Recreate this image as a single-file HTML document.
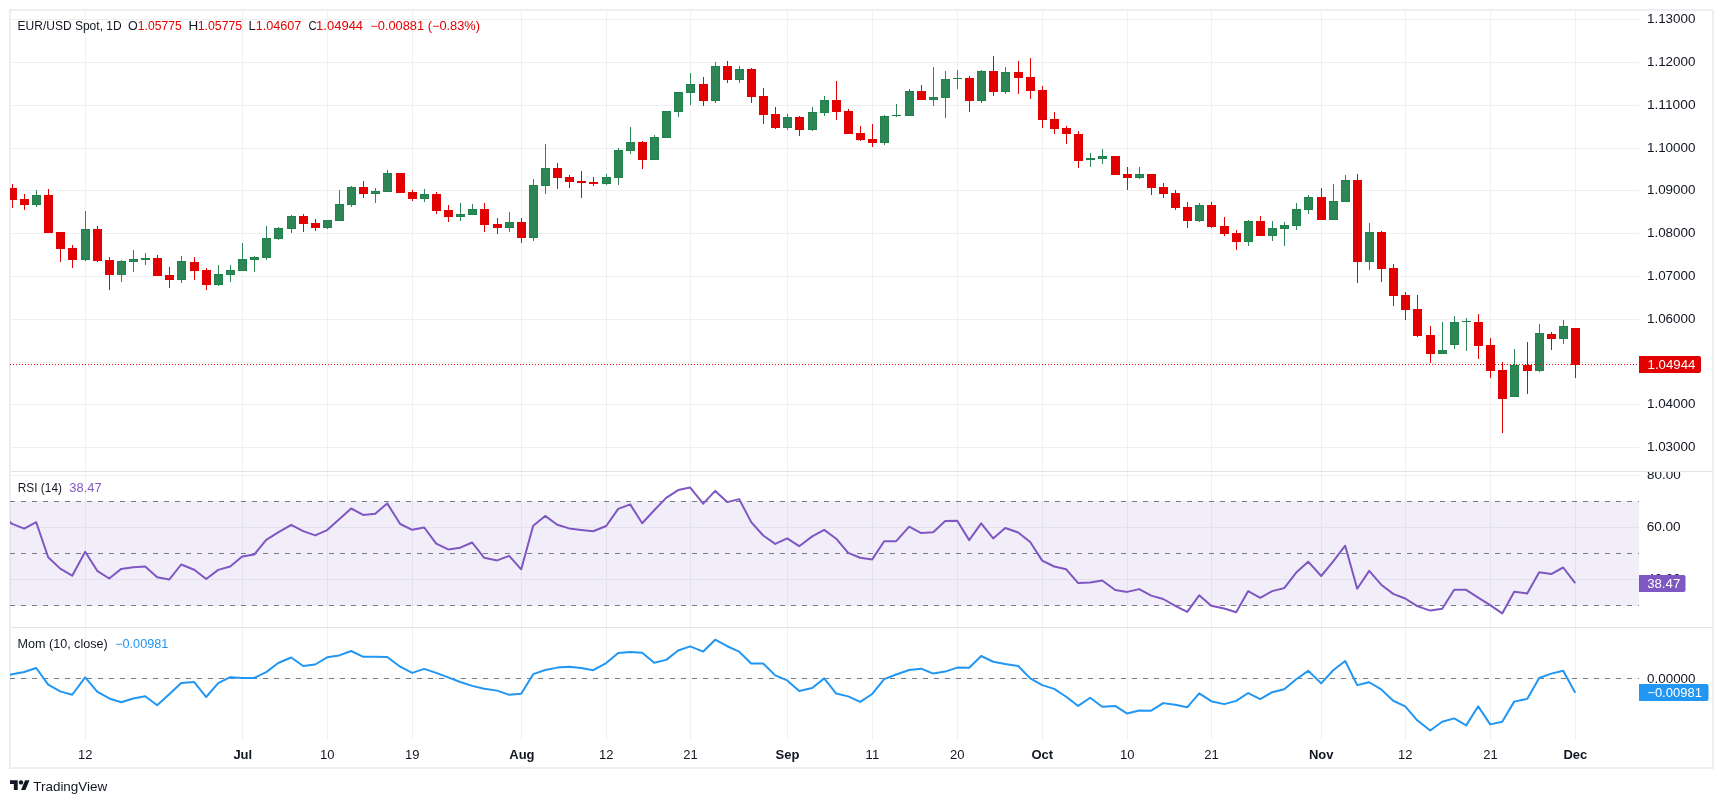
<!DOCTYPE html>
<html><head><meta charset="utf-8"><title>EUR/USD Spot 1D</title>
<style>html,body{margin:0;padding:0;background:#fff;}body{width:1723px;height:803px;position:relative;overflow:hidden;}</style>
</head><body>
<svg width="1723" height="803" viewBox="0 0 1723 803" style="position:absolute;left:0;top:0;will-change:transform">
<defs>
<clipPath id="cm"><rect x="10" y="11" width="1629" height="460"/></clipPath>
<clipPath id="cr"><rect x="10" y="472" width="1629" height="155"/></clipPath>
<clipPath id="cmo"><rect x="10" y="628" width="1629" height="112"/></clipPath>
<clipPath id="cra"><rect x="1639" y="472" width="73" height="155"/></clipPath>
</defs>
<rect x="10" y="10" width="1703" height="758" fill="none" stroke="#eceef2" stroke-width="2"/>
<path d="M85.5 11V740M242.5 11V740M327.5 11V740M412.5 11V740M521.5 11V740M606.5 11V740M690.5 11V740M787.5 11V740M872.5 11V740M957.5 11V740M1042.5 11V740M1127.5 11V740M1211.5 11V740M1321.5 11V740M1405.5 11V740M1490.5 11V740M1575.5 11V740M11 447.5H1639M11 404.5H1639M11 362.5H1639M11 319.5H1639M11 276.5H1639M11 233.5H1639M11 190.5H1639M11 148.5H1639M11 105.5H1639M11 62.5H1639M11 19.5H1639M11 475.5H1639M11 527.5H1639M11 579.5H1639M11 678.5H1639" stroke="#eff1f1" stroke-width="1" fill="none"/>
<rect x="10" y="501" width="1629" height="105" fill="#7e57c2" fill-opacity="0.1"/>
<path d="M10 501.5H1639" stroke="#787b86" stroke-width="1" stroke-dasharray="5 6"/>
<path d="M10 553.5H1639" stroke="#787b86" stroke-width="1" stroke-dasharray="5 6"/>
<path d="M10 605.5H1639" stroke="#787b86" stroke-width="1" stroke-dasharray="5 6"/>
<path d="M10 678.5H1639" stroke="#787b86" stroke-width="1" stroke-dasharray="5 6"/>
<g clip-path="url(#cm)" shape-rendering="crispEdges">
<rect x="12" y="184" width="1" height="4" fill="#e30000"/>
<rect x="12" y="200" width="1" height="8" fill="#e30000"/>
<rect x="8" y="188" width="9" height="12" fill="#e30000"/>
<rect x="24" y="194" width="1" height="5" fill="#e30000"/>
<rect x="24" y="205" width="1" height="5" fill="#e30000"/>
<rect x="20" y="199" width="9" height="6" fill="#e30000"/>
<rect x="36" y="190" width="1" height="5" fill="#2e8555"/>
<rect x="36" y="205" width="1" height="2" fill="#2e8555"/>
<rect x="32" y="195" width="9" height="10" fill="#21814b"/>
<rect x="33" y="196" width="7" height="8" fill="#2e8555"/>
<rect x="48" y="189" width="1" height="6" fill="#e30000"/>
<rect x="44" y="195" width="9" height="38" fill="#e30000"/>
<rect x="60" y="249" width="1" height="13" fill="#e30000"/>
<rect x="56" y="232" width="9" height="17" fill="#e30000"/>
<rect x="72" y="245" width="1" height="3" fill="#e30000"/>
<rect x="72" y="260" width="1" height="8" fill="#e30000"/>
<rect x="68" y="248" width="9" height="12" fill="#e30000"/>
<rect x="85" y="211" width="1" height="18" fill="#2e8555"/>
<rect x="85" y="260" width="1" height="1" fill="#2e8555"/>
<rect x="81" y="229" width="9" height="31" fill="#21814b"/>
<rect x="82" y="230" width="7" height="29" fill="#2e8555"/>
<rect x="97" y="226" width="1" height="3" fill="#e30000"/>
<rect x="97" y="261" width="1" height="1" fill="#e30000"/>
<rect x="93" y="229" width="9" height="32" fill="#e30000"/>
<rect x="109" y="257" width="1" height="3" fill="#e30000"/>
<rect x="109" y="275" width="1" height="15" fill="#e30000"/>
<rect x="105" y="260" width="9" height="15" fill="#e30000"/>
<rect x="121" y="260" width="1" height="1" fill="#2e8555"/>
<rect x="121" y="275" width="1" height="7" fill="#2e8555"/>
<rect x="117" y="261" width="9" height="14" fill="#21814b"/>
<rect x="118" y="262" width="7" height="12" fill="#2e8555"/>
<rect x="133" y="250" width="1" height="9" fill="#2e8555"/>
<rect x="133" y="262" width="1" height="10" fill="#2e8555"/>
<rect x="129" y="259" width="9" height="3" fill="#21814b"/>
<rect x="130" y="260" width="7" height="1" fill="#2e8555"/>
<rect x="145" y="253" width="1" height="5" fill="#2e8555"/>
<rect x="145" y="260" width="1" height="5" fill="#2e8555"/>
<rect x="141" y="258" width="9" height="2" fill="#21814b"/>
<rect x="157" y="255" width="1" height="3" fill="#e30000"/>
<rect x="153" y="258" width="9" height="18" fill="#e30000"/>
<rect x="169" y="267" width="1" height="8" fill="#e30000"/>
<rect x="169" y="280" width="1" height="8" fill="#e30000"/>
<rect x="165" y="275" width="9" height="5" fill="#e30000"/>
<rect x="181" y="256" width="1" height="5" fill="#2e8555"/>
<rect x="181" y="280" width="1" height="3" fill="#2e8555"/>
<rect x="177" y="261" width="9" height="19" fill="#21814b"/>
<rect x="178" y="262" width="7" height="17" fill="#2e8555"/>
<rect x="194" y="257" width="1" height="5" fill="#e30000"/>
<rect x="194" y="271" width="1" height="9" fill="#e30000"/>
<rect x="190" y="262" width="9" height="9" fill="#e30000"/>
<rect x="206" y="268" width="1" height="2" fill="#e30000"/>
<rect x="206" y="285" width="1" height="5" fill="#e30000"/>
<rect x="202" y="270" width="9" height="15" fill="#e30000"/>
<rect x="218" y="265" width="1" height="9" fill="#2e8555"/>
<rect x="218" y="285" width="1" height="1" fill="#2e8555"/>
<rect x="214" y="274" width="9" height="11" fill="#21814b"/>
<rect x="215" y="275" width="7" height="9" fill="#2e8555"/>
<rect x="230" y="265" width="1" height="5" fill="#2e8555"/>
<rect x="230" y="275" width="1" height="7" fill="#2e8555"/>
<rect x="226" y="270" width="9" height="5" fill="#21814b"/>
<rect x="227" y="271" width="7" height="3" fill="#2e8555"/>
<rect x="242" y="243" width="1" height="16" fill="#2e8555"/>
<rect x="238" y="259" width="9" height="12" fill="#21814b"/>
<rect x="239" y="260" width="7" height="10" fill="#2e8555"/>
<rect x="254" y="256" width="1" height="1" fill="#2e8555"/>
<rect x="254" y="260" width="1" height="12" fill="#2e8555"/>
<rect x="250" y="257" width="9" height="3" fill="#21814b"/>
<rect x="251" y="258" width="7" height="1" fill="#2e8555"/>
<rect x="266" y="226" width="1" height="12" fill="#2e8555"/>
<rect x="266" y="258" width="1" height="2" fill="#2e8555"/>
<rect x="262" y="238" width="9" height="20" fill="#21814b"/>
<rect x="263" y="239" width="7" height="18" fill="#2e8555"/>
<rect x="278" y="227" width="1" height="1" fill="#2e8555"/>
<rect x="278" y="239" width="1" height="1" fill="#2e8555"/>
<rect x="274" y="228" width="9" height="11" fill="#21814b"/>
<rect x="275" y="229" width="7" height="9" fill="#2e8555"/>
<rect x="291" y="215" width="1" height="1" fill="#2e8555"/>
<rect x="291" y="229" width="1" height="4" fill="#2e8555"/>
<rect x="287" y="216" width="9" height="13" fill="#21814b"/>
<rect x="288" y="217" width="7" height="11" fill="#2e8555"/>
<rect x="303" y="214" width="1" height="2" fill="#e30000"/>
<rect x="303" y="224" width="1" height="8" fill="#e30000"/>
<rect x="299" y="216" width="9" height="8" fill="#e30000"/>
<rect x="315" y="219" width="1" height="4" fill="#e30000"/>
<rect x="315" y="228" width="1" height="3" fill="#e30000"/>
<rect x="311" y="223" width="9" height="5" fill="#e30000"/>
<rect x="327" y="228" width="1" height="1" fill="#2e8555"/>
<rect x="323" y="220" width="9" height="8" fill="#21814b"/>
<rect x="324" y="221" width="7" height="6" fill="#2e8555"/>
<rect x="339" y="190" width="1" height="14" fill="#2e8555"/>
<rect x="335" y="204" width="9" height="17" fill="#21814b"/>
<rect x="336" y="205" width="7" height="15" fill="#2e8555"/>
<rect x="351" y="186" width="1" height="1" fill="#2e8555"/>
<rect x="351" y="205" width="1" height="2" fill="#2e8555"/>
<rect x="347" y="187" width="9" height="18" fill="#21814b"/>
<rect x="348" y="188" width="7" height="16" fill="#2e8555"/>
<rect x="363" y="181" width="1" height="6" fill="#e30000"/>
<rect x="363" y="194" width="1" height="4" fill="#e30000"/>
<rect x="359" y="187" width="9" height="7" fill="#e30000"/>
<rect x="375" y="188" width="1" height="3" fill="#2e8555"/>
<rect x="375" y="194" width="1" height="9" fill="#2e8555"/>
<rect x="371" y="191" width="9" height="3" fill="#21814b"/>
<rect x="372" y="192" width="7" height="1" fill="#2e8555"/>
<rect x="387" y="170" width="1" height="3" fill="#2e8555"/>
<rect x="383" y="173" width="9" height="19" fill="#21814b"/>
<rect x="384" y="174" width="7" height="17" fill="#2e8555"/>
<rect x="396" y="173" width="9" height="20" fill="#e30000"/>
<rect x="412" y="190" width="1" height="2" fill="#e30000"/>
<rect x="412" y="199" width="1" height="2" fill="#e30000"/>
<rect x="408" y="192" width="9" height="7" fill="#e30000"/>
<rect x="424" y="189" width="1" height="5" fill="#2e8555"/>
<rect x="424" y="199" width="1" height="3" fill="#2e8555"/>
<rect x="420" y="194" width="9" height="5" fill="#21814b"/>
<rect x="421" y="195" width="7" height="3" fill="#2e8555"/>
<rect x="436" y="192" width="1" height="2" fill="#e30000"/>
<rect x="436" y="211" width="1" height="3" fill="#e30000"/>
<rect x="432" y="194" width="9" height="17" fill="#e30000"/>
<rect x="448" y="205" width="1" height="5" fill="#e30000"/>
<rect x="448" y="217" width="1" height="5" fill="#e30000"/>
<rect x="444" y="210" width="9" height="7" fill="#e30000"/>
<rect x="460" y="203" width="1" height="11" fill="#2e8555"/>
<rect x="460" y="217" width="1" height="4" fill="#2e8555"/>
<rect x="456" y="214" width="9" height="3" fill="#21814b"/>
<rect x="457" y="215" width="7" height="1" fill="#2e8555"/>
<rect x="472" y="204" width="1" height="5" fill="#2e8555"/>
<rect x="468" y="209" width="9" height="6" fill="#21814b"/>
<rect x="469" y="210" width="7" height="4" fill="#2e8555"/>
<rect x="484" y="203" width="1" height="6" fill="#e30000"/>
<rect x="484" y="225" width="1" height="7" fill="#e30000"/>
<rect x="480" y="209" width="9" height="16" fill="#e30000"/>
<rect x="497" y="218" width="1" height="6" fill="#e30000"/>
<rect x="497" y="228" width="1" height="6" fill="#e30000"/>
<rect x="493" y="224" width="9" height="4" fill="#e30000"/>
<rect x="509" y="212" width="1" height="10" fill="#2e8555"/>
<rect x="509" y="228" width="1" height="4" fill="#2e8555"/>
<rect x="505" y="222" width="9" height="6" fill="#21814b"/>
<rect x="506" y="223" width="7" height="4" fill="#2e8555"/>
<rect x="521" y="218" width="1" height="4" fill="#e30000"/>
<rect x="521" y="238" width="1" height="5" fill="#e30000"/>
<rect x="517" y="222" width="9" height="16" fill="#e30000"/>
<rect x="533" y="179" width="1" height="6" fill="#2e8555"/>
<rect x="533" y="238" width="1" height="3" fill="#2e8555"/>
<rect x="529" y="185" width="9" height="53" fill="#21814b"/>
<rect x="530" y="186" width="7" height="51" fill="#2e8555"/>
<rect x="545" y="144" width="1" height="24" fill="#2e8555"/>
<rect x="545" y="186" width="1" height="8" fill="#2e8555"/>
<rect x="541" y="168" width="9" height="18" fill="#21814b"/>
<rect x="542" y="169" width="7" height="16" fill="#2e8555"/>
<rect x="557" y="163" width="1" height="5" fill="#e30000"/>
<rect x="557" y="178" width="1" height="11" fill="#e30000"/>
<rect x="553" y="168" width="9" height="10" fill="#e30000"/>
<rect x="569" y="175" width="1" height="2" fill="#e30000"/>
<rect x="569" y="182" width="1" height="6" fill="#e30000"/>
<rect x="565" y="177" width="9" height="5" fill="#e30000"/>
<rect x="581" y="171" width="1" height="10" fill="#e30000"/>
<rect x="581" y="183" width="1" height="15" fill="#e30000"/>
<rect x="577" y="181" width="9" height="2" fill="#e30000"/>
<rect x="593" y="177" width="1" height="5" fill="#e30000"/>
<rect x="593" y="184" width="1" height="2" fill="#e30000"/>
<rect x="589" y="182" width="9" height="2" fill="#e30000"/>
<rect x="606" y="174" width="1" height="3" fill="#2e8555"/>
<rect x="606" y="184" width="1" height="1" fill="#2e8555"/>
<rect x="602" y="177" width="9" height="7" fill="#21814b"/>
<rect x="603" y="178" width="7" height="5" fill="#2e8555"/>
<rect x="618" y="148" width="1" height="2" fill="#2e8555"/>
<rect x="618" y="178" width="1" height="7" fill="#2e8555"/>
<rect x="614" y="150" width="9" height="28" fill="#21814b"/>
<rect x="615" y="151" width="7" height="26" fill="#2e8555"/>
<rect x="630" y="127" width="1" height="15" fill="#2e8555"/>
<rect x="630" y="151" width="1" height="3" fill="#2e8555"/>
<rect x="626" y="142" width="9" height="9" fill="#21814b"/>
<rect x="627" y="143" width="7" height="7" fill="#2e8555"/>
<rect x="642" y="141" width="1" height="1" fill="#e30000"/>
<rect x="642" y="160" width="1" height="9" fill="#e30000"/>
<rect x="638" y="142" width="9" height="18" fill="#e30000"/>
<rect x="654" y="135" width="1" height="2" fill="#2e8555"/>
<rect x="650" y="137" width="9" height="23" fill="#21814b"/>
<rect x="651" y="138" width="7" height="21" fill="#2e8555"/>
<rect x="662" y="111" width="9" height="27" fill="#21814b"/>
<rect x="663" y="112" width="7" height="25" fill="#2e8555"/>
<rect x="678" y="112" width="1" height="5" fill="#2e8555"/>
<rect x="674" y="92" width="9" height="20" fill="#21814b"/>
<rect x="675" y="93" width="7" height="18" fill="#2e8555"/>
<rect x="690" y="73" width="1" height="11" fill="#2e8555"/>
<rect x="690" y="93" width="1" height="12" fill="#2e8555"/>
<rect x="686" y="84" width="9" height="9" fill="#21814b"/>
<rect x="687" y="85" width="7" height="7" fill="#2e8555"/>
<rect x="703" y="77" width="1" height="7" fill="#e30000"/>
<rect x="703" y="101" width="1" height="5" fill="#e30000"/>
<rect x="699" y="84" width="9" height="17" fill="#e30000"/>
<rect x="715" y="62" width="1" height="4" fill="#2e8555"/>
<rect x="715" y="101" width="1" height="2" fill="#2e8555"/>
<rect x="711" y="66" width="9" height="35" fill="#21814b"/>
<rect x="712" y="67" width="7" height="33" fill="#2e8555"/>
<rect x="727" y="61" width="1" height="5" fill="#e30000"/>
<rect x="727" y="80" width="1" height="3" fill="#e30000"/>
<rect x="723" y="66" width="9" height="14" fill="#e30000"/>
<rect x="739" y="66" width="1" height="3" fill="#2e8555"/>
<rect x="739" y="80" width="1" height="3" fill="#2e8555"/>
<rect x="735" y="69" width="9" height="11" fill="#21814b"/>
<rect x="736" y="70" width="7" height="9" fill="#2e8555"/>
<rect x="751" y="68" width="1" height="1" fill="#e30000"/>
<rect x="751" y="97" width="1" height="6" fill="#e30000"/>
<rect x="747" y="69" width="9" height="28" fill="#e30000"/>
<rect x="763" y="88" width="1" height="8" fill="#e30000"/>
<rect x="763" y="115" width="1" height="9" fill="#e30000"/>
<rect x="759" y="96" width="9" height="19" fill="#e30000"/>
<rect x="775" y="107" width="1" height="7" fill="#e30000"/>
<rect x="775" y="128" width="1" height="1" fill="#e30000"/>
<rect x="771" y="114" width="9" height="14" fill="#e30000"/>
<rect x="787" y="114" width="1" height="3" fill="#2e8555"/>
<rect x="787" y="128" width="1" height="2" fill="#2e8555"/>
<rect x="783" y="117" width="9" height="11" fill="#21814b"/>
<rect x="784" y="118" width="7" height="9" fill="#2e8555"/>
<rect x="799" y="116" width="1" height="1" fill="#e30000"/>
<rect x="799" y="130" width="1" height="6" fill="#e30000"/>
<rect x="795" y="117" width="9" height="13" fill="#e30000"/>
<rect x="812" y="107" width="1" height="5" fill="#2e8555"/>
<rect x="812" y="130" width="1" height="1" fill="#2e8555"/>
<rect x="808" y="112" width="9" height="18" fill="#21814b"/>
<rect x="809" y="113" width="7" height="16" fill="#2e8555"/>
<rect x="824" y="96" width="1" height="4" fill="#2e8555"/>
<rect x="824" y="113" width="1" height="3" fill="#2e8555"/>
<rect x="820" y="100" width="9" height="13" fill="#21814b"/>
<rect x="821" y="101" width="7" height="11" fill="#2e8555"/>
<rect x="836" y="81" width="1" height="19" fill="#e30000"/>
<rect x="836" y="112" width="1" height="8" fill="#e30000"/>
<rect x="832" y="100" width="9" height="12" fill="#e30000"/>
<rect x="848" y="109" width="1" height="2" fill="#e30000"/>
<rect x="844" y="111" width="9" height="23" fill="#e30000"/>
<rect x="860" y="126" width="1" height="7" fill="#e30000"/>
<rect x="860" y="140" width="1" height="1" fill="#e30000"/>
<rect x="856" y="133" width="9" height="7" fill="#e30000"/>
<rect x="872" y="124" width="1" height="15" fill="#e30000"/>
<rect x="872" y="143" width="1" height="4" fill="#e30000"/>
<rect x="868" y="139" width="9" height="4" fill="#e30000"/>
<rect x="884" y="115" width="1" height="1" fill="#2e8555"/>
<rect x="884" y="143" width="1" height="2" fill="#2e8555"/>
<rect x="880" y="116" width="9" height="27" fill="#21814b"/>
<rect x="881" y="117" width="7" height="25" fill="#2e8555"/>
<rect x="896" y="104" width="1" height="11" fill="#2e8555"/>
<rect x="896" y="116" width="1" height="1" fill="#2e8555"/>
<rect x="892" y="115" width="9" height="1" fill="#21814b"/>
<rect x="909" y="89" width="1" height="2" fill="#2e8555"/>
<rect x="905" y="91" width="9" height="25" fill="#21814b"/>
<rect x="906" y="92" width="7" height="23" fill="#2e8555"/>
<rect x="921" y="85" width="1" height="6" fill="#e30000"/>
<rect x="917" y="91" width="9" height="9" fill="#e30000"/>
<rect x="933" y="67" width="1" height="30" fill="#2e8555"/>
<rect x="933" y="100" width="1" height="6" fill="#2e8555"/>
<rect x="929" y="97" width="9" height="3" fill="#21814b"/>
<rect x="930" y="98" width="7" height="1" fill="#2e8555"/>
<rect x="945" y="71" width="1" height="8" fill="#2e8555"/>
<rect x="945" y="98" width="1" height="20" fill="#2e8555"/>
<rect x="941" y="79" width="9" height="19" fill="#21814b"/>
<rect x="942" y="80" width="7" height="17" fill="#2e8555"/>
<rect x="957" y="70" width="1" height="8" fill="#2e8555"/>
<rect x="957" y="79" width="1" height="10" fill="#2e8555"/>
<rect x="953" y="78" width="9" height="1" fill="#21814b"/>
<rect x="969" y="76" width="1" height="2" fill="#e30000"/>
<rect x="969" y="101" width="1" height="11" fill="#e30000"/>
<rect x="965" y="78" width="9" height="23" fill="#e30000"/>
<rect x="981" y="70" width="1" height="1" fill="#2e8555"/>
<rect x="981" y="101" width="1" height="2" fill="#2e8555"/>
<rect x="977" y="71" width="9" height="30" fill="#21814b"/>
<rect x="978" y="72" width="7" height="28" fill="#2e8555"/>
<rect x="993" y="56" width="1" height="15" fill="#e30000"/>
<rect x="993" y="92" width="1" height="4" fill="#e30000"/>
<rect x="989" y="71" width="9" height="21" fill="#e30000"/>
<rect x="1005" y="67" width="1" height="5" fill="#2e8555"/>
<rect x="1005" y="92" width="1" height="2" fill="#2e8555"/>
<rect x="1001" y="72" width="9" height="20" fill="#21814b"/>
<rect x="1002" y="73" width="7" height="18" fill="#2e8555"/>
<rect x="1018" y="61" width="1" height="11" fill="#e30000"/>
<rect x="1018" y="78" width="1" height="16" fill="#e30000"/>
<rect x="1014" y="72" width="9" height="6" fill="#e30000"/>
<rect x="1030" y="58" width="1" height="19" fill="#e30000"/>
<rect x="1030" y="91" width="1" height="8" fill="#e30000"/>
<rect x="1026" y="77" width="9" height="14" fill="#e30000"/>
<rect x="1042" y="86" width="1" height="4" fill="#e30000"/>
<rect x="1042" y="120" width="1" height="8" fill="#e30000"/>
<rect x="1038" y="90" width="9" height="30" fill="#e30000"/>
<rect x="1054" y="112" width="1" height="7" fill="#e30000"/>
<rect x="1054" y="129" width="1" height="5" fill="#e30000"/>
<rect x="1050" y="119" width="9" height="10" fill="#e30000"/>
<rect x="1066" y="126" width="1" height="2" fill="#e30000"/>
<rect x="1066" y="134" width="1" height="10" fill="#e30000"/>
<rect x="1062" y="128" width="9" height="6" fill="#e30000"/>
<rect x="1078" y="131" width="1" height="3" fill="#e30000"/>
<rect x="1078" y="161" width="1" height="7" fill="#e30000"/>
<rect x="1074" y="134" width="9" height="27" fill="#e30000"/>
<rect x="1090" y="153" width="1" height="5" fill="#2e8555"/>
<rect x="1090" y="160" width="1" height="7" fill="#2e8555"/>
<rect x="1086" y="158" width="9" height="2" fill="#21814b"/>
<rect x="1102" y="149" width="1" height="7" fill="#2e8555"/>
<rect x="1102" y="159" width="1" height="5" fill="#2e8555"/>
<rect x="1098" y="156" width="9" height="3" fill="#21814b"/>
<rect x="1099" y="157" width="7" height="1" fill="#2e8555"/>
<rect x="1111" y="156" width="9" height="19" fill="#e30000"/>
<rect x="1127" y="167" width="1" height="7" fill="#e30000"/>
<rect x="1127" y="178" width="1" height="12" fill="#e30000"/>
<rect x="1123" y="174" width="9" height="4" fill="#e30000"/>
<rect x="1139" y="167" width="1" height="7" fill="#2e8555"/>
<rect x="1139" y="178" width="1" height="1" fill="#2e8555"/>
<rect x="1135" y="174" width="9" height="4" fill="#21814b"/>
<rect x="1136" y="175" width="7" height="2" fill="#2e8555"/>
<rect x="1151" y="188" width="1" height="7" fill="#e30000"/>
<rect x="1147" y="174" width="9" height="14" fill="#e30000"/>
<rect x="1163" y="183" width="1" height="4" fill="#e30000"/>
<rect x="1163" y="194" width="1" height="4" fill="#e30000"/>
<rect x="1159" y="187" width="9" height="7" fill="#e30000"/>
<rect x="1175" y="190" width="1" height="3" fill="#e30000"/>
<rect x="1175" y="208" width="1" height="2" fill="#e30000"/>
<rect x="1171" y="193" width="9" height="15" fill="#e30000"/>
<rect x="1187" y="202" width="1" height="5" fill="#e30000"/>
<rect x="1187" y="221" width="1" height="7" fill="#e30000"/>
<rect x="1183" y="207" width="9" height="14" fill="#e30000"/>
<rect x="1199" y="203" width="1" height="2" fill="#2e8555"/>
<rect x="1199" y="221" width="1" height="1" fill="#2e8555"/>
<rect x="1195" y="205" width="9" height="16" fill="#21814b"/>
<rect x="1196" y="206" width="7" height="14" fill="#2e8555"/>
<rect x="1211" y="202" width="1" height="3" fill="#e30000"/>
<rect x="1211" y="227" width="1" height="1" fill="#e30000"/>
<rect x="1207" y="205" width="9" height="22" fill="#e30000"/>
<rect x="1224" y="217" width="1" height="9" fill="#e30000"/>
<rect x="1224" y="234" width="1" height="2" fill="#e30000"/>
<rect x="1220" y="226" width="9" height="8" fill="#e30000"/>
<rect x="1236" y="230" width="1" height="3" fill="#e30000"/>
<rect x="1236" y="242" width="1" height="8" fill="#e30000"/>
<rect x="1232" y="233" width="9" height="9" fill="#e30000"/>
<rect x="1248" y="220" width="1" height="1" fill="#2e8555"/>
<rect x="1248" y="242" width="1" height="4" fill="#2e8555"/>
<rect x="1244" y="221" width="9" height="21" fill="#21814b"/>
<rect x="1245" y="222" width="7" height="19" fill="#2e8555"/>
<rect x="1260" y="216" width="1" height="5" fill="#e30000"/>
<rect x="1256" y="221" width="9" height="15" fill="#e30000"/>
<rect x="1272" y="221" width="1" height="7" fill="#2e8555"/>
<rect x="1272" y="236" width="1" height="5" fill="#2e8555"/>
<rect x="1268" y="228" width="9" height="8" fill="#21814b"/>
<rect x="1269" y="229" width="7" height="6" fill="#2e8555"/>
<rect x="1284" y="222" width="1" height="3" fill="#2e8555"/>
<rect x="1284" y="229" width="1" height="17" fill="#2e8555"/>
<rect x="1280" y="225" width="9" height="4" fill="#21814b"/>
<rect x="1281" y="226" width="7" height="2" fill="#2e8555"/>
<rect x="1296" y="203" width="1" height="6" fill="#2e8555"/>
<rect x="1296" y="226" width="1" height="4" fill="#2e8555"/>
<rect x="1292" y="209" width="9" height="17" fill="#21814b"/>
<rect x="1293" y="210" width="7" height="15" fill="#2e8555"/>
<rect x="1308" y="195" width="1" height="2" fill="#2e8555"/>
<rect x="1308" y="210" width="1" height="4" fill="#2e8555"/>
<rect x="1304" y="197" width="9" height="13" fill="#21814b"/>
<rect x="1305" y="198" width="7" height="11" fill="#2e8555"/>
<rect x="1321" y="188" width="1" height="9" fill="#e30000"/>
<rect x="1317" y="197" width="9" height="23" fill="#e30000"/>
<rect x="1333" y="184" width="1" height="17" fill="#2e8555"/>
<rect x="1329" y="201" width="9" height="19" fill="#21814b"/>
<rect x="1330" y="202" width="7" height="17" fill="#2e8555"/>
<rect x="1345" y="175" width="1" height="5" fill="#2e8555"/>
<rect x="1341" y="180" width="9" height="22" fill="#21814b"/>
<rect x="1342" y="181" width="7" height="20" fill="#2e8555"/>
<rect x="1357" y="174" width="1" height="6" fill="#e30000"/>
<rect x="1357" y="262" width="1" height="21" fill="#e30000"/>
<rect x="1353" y="180" width="9" height="82" fill="#e30000"/>
<rect x="1369" y="223" width="1" height="9" fill="#2e8555"/>
<rect x="1369" y="262" width="1" height="8" fill="#2e8555"/>
<rect x="1365" y="232" width="9" height="30" fill="#21814b"/>
<rect x="1366" y="233" width="7" height="28" fill="#2e8555"/>
<rect x="1381" y="231" width="1" height="1" fill="#e30000"/>
<rect x="1381" y="269" width="1" height="13" fill="#e30000"/>
<rect x="1377" y="232" width="9" height="37" fill="#e30000"/>
<rect x="1393" y="264" width="1" height="4" fill="#e30000"/>
<rect x="1393" y="296" width="1" height="10" fill="#e30000"/>
<rect x="1389" y="268" width="9" height="28" fill="#e30000"/>
<rect x="1405" y="292" width="1" height="3" fill="#e30000"/>
<rect x="1405" y="310" width="1" height="10" fill="#e30000"/>
<rect x="1401" y="295" width="9" height="15" fill="#e30000"/>
<rect x="1417" y="295" width="1" height="14" fill="#e30000"/>
<rect x="1417" y="336" width="1" height="1" fill="#e30000"/>
<rect x="1413" y="309" width="9" height="27" fill="#e30000"/>
<rect x="1430" y="326" width="1" height="9" fill="#e30000"/>
<rect x="1430" y="354" width="1" height="9" fill="#e30000"/>
<rect x="1426" y="335" width="9" height="19" fill="#e30000"/>
<rect x="1442" y="322" width="1" height="28" fill="#2e8555"/>
<rect x="1438" y="350" width="9" height="4" fill="#21814b"/>
<rect x="1439" y="351" width="7" height="2" fill="#2e8555"/>
<rect x="1454" y="316" width="1" height="6" fill="#2e8555"/>
<rect x="1454" y="345" width="1" height="4" fill="#2e8555"/>
<rect x="1450" y="322" width="9" height="23" fill="#21814b"/>
<rect x="1451" y="323" width="7" height="21" fill="#2e8555"/>
<rect x="1466" y="318" width="1" height="3" fill="#2e8555"/>
<rect x="1466" y="322" width="1" height="29" fill="#2e8555"/>
<rect x="1462" y="321" width="9" height="1" fill="#21814b"/>
<rect x="1478" y="314" width="1" height="8" fill="#e30000"/>
<rect x="1478" y="346" width="1" height="13" fill="#e30000"/>
<rect x="1474" y="322" width="9" height="24" fill="#e30000"/>
<rect x="1490" y="338" width="1" height="7" fill="#e30000"/>
<rect x="1490" y="371" width="1" height="7" fill="#e30000"/>
<rect x="1486" y="345" width="9" height="26" fill="#e30000"/>
<rect x="1502" y="362" width="1" height="8" fill="#e30000"/>
<rect x="1502" y="399" width="1" height="34" fill="#e30000"/>
<rect x="1498" y="370" width="9" height="29" fill="#e30000"/>
<rect x="1514" y="349" width="1" height="16" fill="#2e8555"/>
<rect x="1510" y="365" width="9" height="32" fill="#21814b"/>
<rect x="1511" y="366" width="7" height="30" fill="#2e8555"/>
<rect x="1527" y="342" width="1" height="23" fill="#e30000"/>
<rect x="1527" y="371" width="1" height="23" fill="#e30000"/>
<rect x="1523" y="365" width="9" height="6" fill="#e30000"/>
<rect x="1539" y="324" width="1" height="9" fill="#2e8555"/>
<rect x="1539" y="371" width="1" height="1" fill="#2e8555"/>
<rect x="1535" y="333" width="9" height="38" fill="#21814b"/>
<rect x="1536" y="334" width="7" height="36" fill="#2e8555"/>
<rect x="1551" y="332" width="1" height="2" fill="#e30000"/>
<rect x="1551" y="339" width="1" height="11" fill="#e30000"/>
<rect x="1547" y="334" width="9" height="5" fill="#e30000"/>
<rect x="1563" y="320" width="1" height="6" fill="#2e8555"/>
<rect x="1563" y="339" width="1" height="5" fill="#2e8555"/>
<rect x="1559" y="326" width="9" height="13" fill="#21814b"/>
<rect x="1560" y="327" width="7" height="11" fill="#2e8555"/>
<rect x="1575" y="365" width="1" height="13" fill="#e30000"/>
<rect x="1571" y="328" width="9" height="37" fill="#e30000"/>
</g>
<path d="M10 364.5H1639" stroke="#e30000" stroke-width="1" stroke-dasharray="1 2"/>
<polyline clip-path="url(#cr)" points="0.20,514.00 12.20,523.90 24.20,528.60 36.20,522.20 48.20,557.20 60.20,568.60 72.20,575.70 85.20,551.80 97.20,570.80 109.20,578.50 121.20,568.90 133.20,567.20 145.20,566.40 157.20,577.30 169.20,579.60 181.20,564.50 194.20,569.70 206.20,579.00 218.20,569.90 230.20,566.50 242.20,556.60 254.20,554.50 266.20,539.80 278.20,532.30 291.20,524.80 303.20,531.10 315.20,535.40 327.20,530.10 339.20,519.20 351.20,508.50 363.20,514.90 375.20,513.80 387.20,503.40 400.20,524.00 412.20,529.80 424.20,527.50 436.20,543.60 448.20,549.40 460.20,547.70 472.20,542.50 484.20,557.80 497.20,560.40 509.20,555.90 521.20,569.30 533.20,525.70 545.20,515.90 557.20,524.80 569.20,528.40 581.20,529.90 593.20,531.30 606.20,526.00 618.20,508.90 630.20,504.40 642.20,523.20 654.20,510.30 666.20,497.90 678.20,490.10 690.20,487.55 703.20,503.60 715.20,490.90 727.20,502.10 739.20,499.10 751.20,522.10 763.20,535.50 775.20,543.90 787.20,538.30 799.20,546.20 812.20,536.40 824.20,529.90 836.20,538.70 848.20,552.90 860.20,557.80 872.20,559.40 884.20,541.20 896.20,541.20 909.20,526.70 921.20,533.10 933.20,532.20 945.20,521.10 957.20,520.70 969.20,540.10 981.20,523.30 993.20,538.40 1005.20,528.00 1018.20,532.50 1030.20,542.00 1042.20,560.60 1054.20,566.50 1066.20,569.30 1078.20,583.10 1090.20,582.40 1102.20,580.50 1115.20,590.00 1127.20,591.90 1139.20,589.10 1151.20,595.60 1163.20,599.00 1175.20,605.90 1187.20,611.90 1199.20,595.30 1211.20,605.70 1224.20,608.50 1236.20,612.20 1248.20,591.10 1260.20,597.80 1272.20,591.10 1284.20,588.10 1296.20,572.60 1308.20,561.70 1321.20,576.00 1333.20,561.40 1345.20,545.70 1357.20,588.80 1369.20,570.90 1381.20,584.70 1393.20,593.90 1405.20,598.50 1417.20,606.10 1430.20,610.60 1442.20,608.70 1454.20,589.80 1466.20,589.80 1478.20,597.70 1490.20,605.10 1502.20,613.40 1514.20,591.70 1527.20,593.40 1539.20,572.20 1551.20,574.10 1563.20,567.50 1575.20,583.20" fill="none" stroke="#7e57c2" stroke-width="2" stroke-linejoin="round"/>
<polyline clip-path="url(#cmo)" points="0.20,676.80 12.20,674.35 24.20,671.94 36.20,667.97 48.20,684.69 60.20,691.35 72.20,694.75 85.20,677.32 97.20,691.64 109.20,698.44 121.20,702.26 133.20,698.50 145.20,696.25 157.20,705.20 169.20,694.29 181.20,682.94 194.20,682.11 206.20,697.01 218.20,683.17 230.20,677.13 242.20,677.94 254.20,677.92 266.20,672.11 278.20,663.02 291.20,657.51 303.20,665.99 315.20,664.50 327.20,657.31 339.20,655.42 351.20,651.00 363.20,656.86 375.20,656.77 387.20,656.95 400.20,666.70 412.20,672.91 424.20,668.90 436.20,672.86 448.20,677.42 460.20,681.94 472.20,685.88 484.20,688.75 497.20,690.63 509.20,694.86 521.20,693.65 533.20,674.15 545.20,669.96 557.20,667.62 569.20,666.86 581.20,667.99 593.20,670.21 606.20,663.04 618.20,653.01 630.20,652.11 642.20,652.78 654.20,662.71 666.20,659.86 678.20,650.46 690.20,646.42 703.20,651.57 715.20,639.68 727.20,646.24 739.20,651.68 751.20,663.44 763.20,663.55 775.20,675.37 787.20,680.45 799.20,690.95 812.20,687.95 824.20,678.40 836.20,693.55 848.20,696.40 860.20,701.87 872.20,693.96 884.20,679.13 896.20,674.53 909.20,669.99 921.20,668.67 933.20,673.58 945.20,671.61 957.20,667.59 969.20,667.72 981.20,655.99 993.20,661.75 1005.20,664.05 1018.20,666.04 1030.20,678.37 1042.20,685.14 1054.20,688.90 1066.20,696.73 1078.20,705.95 1090.20,697.75 1102.20,706.74 1115.20,705.93 1127.20,713.56 1139.20,710.57 1151.20,710.71 1163.20,703.12 1175.20,704.80 1187.20,707.34 1199.20,693.33 1211.20,701.16 1224.20,704.14 1236.20,700.90 1248.20,693.02 1260.20,699.09 1272.20,692.21 1284.20,689.21 1296.20,679.25 1308.20,670.82 1321.20,683.37 1333.20,670.26 1345.20,661.00 1357.20,685.14 1369.20,682.24 1381.20,689.36 1393.20,700.77 1405.20,706.36 1417.20,720.32 1430.20,730.46 1442.20,721.81 1454.20,718.41 1466.20,725.35 1478.20,706.34 1490.20,724.39 1502.20,721.74 1514.20,701.63 1527.20,698.89 1539.20,677.97 1551.20,673.63 1563.20,670.69 1575.20,692.69" fill="none" stroke="#2196f3" stroke-width="2" stroke-linejoin="round"/>
<path d="M11 471.5H1712M11 627.5H1712" stroke="#e0e3eb" stroke-width="1"/>
<text transform="translate(17.60,30.00)" font-family="'Liberation Sans', Arial, sans-serif" font-size="12" fill="#131722">EUR/USD Spot, 1D</text>
<text transform="translate(127.88,30.00) scale(1.0424,1)" font-family="'Liberation Sans', Arial, sans-serif" font-size="12" fill="#131722">O</text>
<text transform="translate(137.79,30.00) scale(1.0119,1)" font-family="'Liberation Sans', Arial, sans-serif" font-size="12" fill="#e30000">1.05775</text>
<text transform="translate(188.57,30.00) scale(1.1259,1)" font-family="'Liberation Sans', Arial, sans-serif" font-size="12" fill="#131722">H</text>
<text transform="translate(197.67,30.00) scale(1.0286,1)" font-family="'Liberation Sans', Arial, sans-serif" font-size="12" fill="#e30000">1.05775</text>
<text transform="translate(248.61,30.00) scale(1.0857,1)" font-family="'Liberation Sans', Arial, sans-serif" font-size="12" fill="#131722">L</text>
<text transform="translate(255.64,30.00) scale(1.0563,1)" font-family="'Liberation Sans', Arial, sans-serif" font-size="12" fill="#e30000">1.04607</text>
<text transform="translate(308.43,30.00) scale(0.9419,1)" font-family="'Liberation Sans', Arial, sans-serif" font-size="12" fill="#131722">C</text>
<text transform="translate(316.12,30.00) scale(1.0833,1)" font-family="'Liberation Sans', Arial, sans-serif" font-size="12" fill="#e30000">1.04944</text>
<text transform="translate(370.27,30.00) scale(1.0700,1)" font-family="'Liberation Sans', Arial, sans-serif" font-size="12" fill="#e30000">−0.00881 (−0.83%)</text>
<text transform="translate(17.81,492.00) scale(0.9884,1)" font-family="'Liberation Sans', Arial, sans-serif" font-size="12" fill="#131722">RSI (14)</text>
<text transform="translate(69.26,492.00) scale(1.0793,1)" font-family="'Liberation Sans', Arial, sans-serif" font-size="12" fill="#7e57c2">38.47</text>
<text transform="translate(17.55,648.00) scale(1.0481,1)" font-family="'Liberation Sans', Arial, sans-serif" font-size="12" fill="#131722">Mom (10, close)</text>
<text transform="translate(115.17,648.00) scale(1.0558,1)" font-family="'Liberation Sans', Arial, sans-serif" font-size="12" fill="#2196f3">−0.00981</text>
<text transform="translate(1646.93,451.35) scale(1.0743,1)" font-family="'Liberation Sans', Arial, sans-serif" font-size="12.5" fill="#131722">1.03000</text>
<text transform="translate(1646.93,408.35) scale(1.0743,1)" font-family="'Liberation Sans', Arial, sans-serif" font-size="12.5" fill="#131722">1.04000</text>
<text transform="translate(1646.93,323.35) scale(1.0743,1)" font-family="'Liberation Sans', Arial, sans-serif" font-size="12.5" fill="#131722">1.06000</text>
<text transform="translate(1646.93,280.35) scale(1.0743,1)" font-family="'Liberation Sans', Arial, sans-serif" font-size="12.5" fill="#131722">1.07000</text>
<text transform="translate(1646.93,237.35) scale(1.0743,1)" font-family="'Liberation Sans', Arial, sans-serif" font-size="12.5" fill="#131722">1.08000</text>
<text transform="translate(1646.93,194.35) scale(1.0743,1)" font-family="'Liberation Sans', Arial, sans-serif" font-size="12.5" fill="#131722">1.09000</text>
<text transform="translate(1646.93,152.35) scale(1.0743,1)" font-family="'Liberation Sans', Arial, sans-serif" font-size="12.5" fill="#131722">1.10000</text>
<text transform="translate(1646.90,109.35) scale(1.0994,1)" font-family="'Liberation Sans', Arial, sans-serif" font-size="12.5" fill="#131722">1.11000</text>
<text transform="translate(1646.93,66.35) scale(1.0743,1)" font-family="'Liberation Sans', Arial, sans-serif" font-size="12.5" fill="#131722">1.12000</text>
<text transform="translate(1646.93,23.35) scale(1.0743,1)" font-family="'Liberation Sans', Arial, sans-serif" font-size="12.5" fill="#131722">1.13000</text>
<g clip-path="url(#cra)"><text transform="translate(1646.96,479.00) scale(1.0777,1)" font-family="'Liberation Sans', Arial, sans-serif" font-size="12.5" fill="#131722">80.00</text></g>
<g clip-path="url(#cra)"><text transform="translate(1646.68,531.00) scale(1.0867,1)" font-family="'Liberation Sans', Arial, sans-serif" font-size="12.5" fill="#131722">60.00</text></g>
<g clip-path="url(#cra)"><text transform="translate(1647.23,583.30) scale(1.0689,1)" font-family="'Liberation Sans', Arial, sans-serif" font-size="12.5" fill="#131722">40.00</text></g>
<text transform="translate(1647.06,682.90) scale(1.0734,1)" font-family="'Liberation Sans', Arial, sans-serif" font-size="12.5" fill="#131722">0.00000</text>
<text transform="translate(78.12,758.60)" font-family="'Liberation Sans', Arial, sans-serif" font-size="13" fill="#131722">12</text>
<text transform="translate(233.38,758.60)" font-family="'Liberation Sans', Arial, sans-serif" font-size="13" fill="#131722" font-weight="700">Jul</text>
<text transform="translate(320.00,758.60)" font-family="'Liberation Sans', Arial, sans-serif" font-size="13" fill="#131722">10</text>
<text transform="translate(405.12,758.60)" font-family="'Liberation Sans', Arial, sans-serif" font-size="13" fill="#131722">19</text>
<text transform="translate(509.25,758.60)" font-family="'Liberation Sans', Arial, sans-serif" font-size="13" fill="#131722" font-weight="700">Aug</text>
<text transform="translate(599.12,758.60)" font-family="'Liberation Sans', Arial, sans-serif" font-size="13" fill="#131722">12</text>
<text transform="translate(683.25,758.60)" font-family="'Liberation Sans', Arial, sans-serif" font-size="13" fill="#131722">21</text>
<text transform="translate(775.62,758.60)" font-family="'Liberation Sans', Arial, sans-serif" font-size="13" fill="#131722" font-weight="700">Sep</text>
<text transform="translate(865.62,758.60)" font-family="'Liberation Sans', Arial, sans-serif" font-size="13" fill="#131722">11</text>
<text transform="translate(950.12,758.60)" font-family="'Liberation Sans', Arial, sans-serif" font-size="13" fill="#131722">20</text>
<text transform="translate(1031.50,758.60)" font-family="'Liberation Sans', Arial, sans-serif" font-size="13" fill="#131722" font-weight="700">Oct</text>
<text transform="translate(1120.00,758.60)" font-family="'Liberation Sans', Arial, sans-serif" font-size="13" fill="#131722">10</text>
<text transform="translate(1204.25,758.60)" font-family="'Liberation Sans', Arial, sans-serif" font-size="13" fill="#131722">21</text>
<text transform="translate(1308.88,758.60)" font-family="'Liberation Sans', Arial, sans-serif" font-size="13" fill="#131722" font-weight="700">Nov</text>
<text transform="translate(1398.12,758.60)" font-family="'Liberation Sans', Arial, sans-serif" font-size="13" fill="#131722">12</text>
<text transform="translate(1483.25,758.60)" font-family="'Liberation Sans', Arial, sans-serif" font-size="13" fill="#131722">21</text>
<text transform="translate(1563.38,758.60)" font-family="'Liberation Sans', Arial, sans-serif" font-size="13" fill="#131722" font-weight="700">Dec</text>
<text transform="translate(33.24,791.00) scale(1.0344,1)" font-family="'Liberation Sans', Arial, sans-serif" font-size="13" fill="#131722">TradingView</text>
<path d="M1639 356H1699a2 2 0 0 1 2 2V371a2 2 0 0 1-2 2H1639Z" fill="#e30000"/>
<path d="M1639 575H1683.5a2 2 0 0 1 2 2V590a2 2 0 0 1-2 2H1639Z" fill="#7e57c2"/>
<path d="M1639 684H1706.5a2 2 0 0 1 2 2V699a2 2 0 0 1-2 2H1639Z" fill="#2196f3"/>
<text transform="translate(1647.54,368.80) scale(1.0606,1)" font-family="'Liberation Sans', Arial, sans-serif" font-size="12.5" fill="#ffffff">1.04944</text>
<text transform="translate(1647.17,587.80) scale(1.0579,1)" font-family="'Liberation Sans', Arial, sans-serif" font-size="12.5" fill="#ffffff">38.47</text>
<text transform="translate(1647.28,696.90) scale(1.0427,1)" font-family="'Liberation Sans', Arial, sans-serif" font-size="12.5" fill="#ffffff">−0.00981</text>
<g transform="translate(10,778) scale(0.55)" fill="#131722"><path d="M14 22H7V11H0V4h14v18zM28 22h-8l7.5-18h8L28 22z"/><circle cx="20" cy="8" r="4"/></g>
</svg>
</body></html>
